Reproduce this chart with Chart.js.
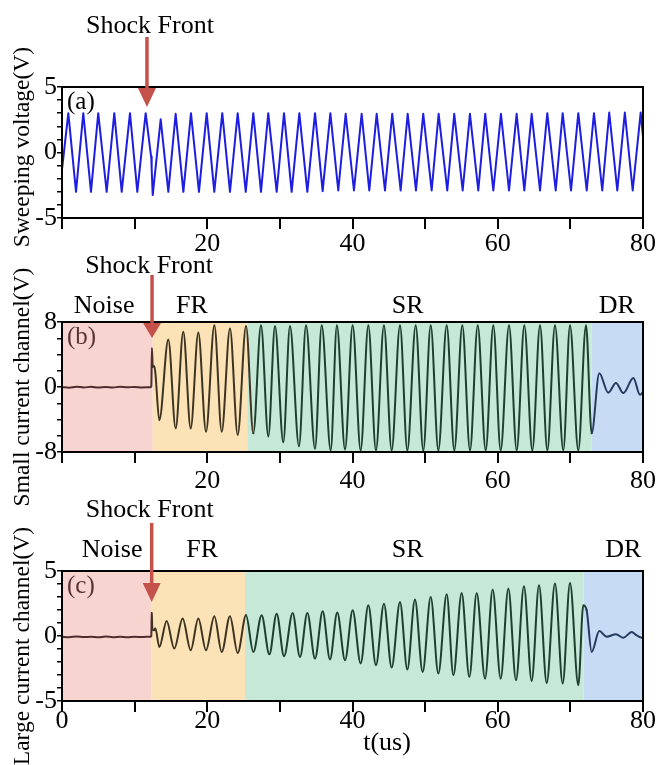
<!DOCTYPE html>
<html>
<head>
<meta charset="utf-8">
<title>Probe signals across the shock front</title>
<script src="https://cdn.jsdelivr.net/npm/chart.js@4.4.1/dist/chart.umd.min.js"></script>
<style>
  body { margin: 0; background: #fff; }
  #wrap { position: relative; width: 667px; height: 765px; overflow: hidden; font-family: 'Liberation Serif', 'Times New Roman', serif; color: #000; }
  canvas { position: absolute; left: 0; }
  .ytitle { position: absolute; white-space: nowrap; font-size: 23.5px; line-height: 1; transform: translate(-50%, -50%) rotate(-90deg); }
  .xtitle { position: absolute; white-space: nowrap; font-size: 26px; line-height: 1; transform: translate(-50%, -50%); }
</style>
</head>
<body>
<div id="wrap">
  <canvas id="chartA" width="667" height="255" style="top:0px"></canvas>
  <canvas id="chartB" width="667" height="240" style="top:255px"></canvas>
  <canvas id="chartC" width="667" height="270" style="top:495px"></canvas>
  <div class="ytitle" style="left:22px; top:147px">Sweeping voltage(V)</div>
  <div class="ytitle" style="left:22px; top:387px">Small current channel(V)</div>
  <div class="ytitle" style="left:22px; top:646px">Large current channel(V)</div>
  <div class="xtitle" style="left:387px; top:742px">t(us)</div>
</div>
<script>
// ---- data ----
// (a) sweeping voltage: turning points of the triangle wave
var timesA = [0, 0.87, 1.93, 2.93, 3.99, 4.99, 6.15, 7.2, 8.22, 9.36, 10.37, 11.52,
  12.3, 12.33, 12.36, 12.49, 13.59, 14.64, 15.65, 16.71, 17.76, 18.86, 19.92, 20.97,
  22.07, 23.13, 24.19, 25.3, 26.34, 27.4, 28.4, 29.56, 30.57, 31.62, 32.68, 33.78,
  34.84, 35.89, 36.95, 38.04, 39.06, 40.2, 41.26, 42.31, 43.33, 44.47, 45.47, 46.63,
  47.6, 48.74, 49.74, 50.9, 51.86, 53.05, 54.01, 55.17, 56.17, 57.32, 58.28, 59.39,
  60.44, 61.55, 62.6, 63.66, 64.67, 65.82, 66.82, 67.98, 68.94, 70.09, 71.09, 72.25,
  73.25, 74.39, 75.35, 76.46, 77.5, 78.58, 79.68, 80];
var voltsA = [-1.3, 3.0, -3.0, 3.0, -3.0, 3.0, -3.0, 3.0, -3.0, 3.0, -3.0, 3.0,
  -0.45, -0.3, -1.2, -3.25, 2.53, -3.0, 2.95, -3.0, 3.0, -3.0, 3.0, -3.0,
  3.0, -3.0, 3.0, -3.0, 3.0, -3.0, 3.0, -3.0, 3.0, -3.0, 3.0, -3.0,
  3.0, -2.95, 3.0, -2.9, 2.95, -2.9, 2.95, -2.9, 2.95, -2.9, 2.95, -2.9,
  2.95, -2.9, 2.95, -2.9, 2.95, -2.9, 2.95, -2.9, 2.95, -2.9, 2.95, -2.9,
  2.95, -2.9, 2.95, -2.9, 2.95, -2.9, 3.0, -2.9, 3.0, -2.9, 3.0, -2.9,
  3.0, -2.9, 3.05, -2.9, 3.05, -2.9, 3.05, 1.2];

// (b) small current channel
var timesB = [0, 1, 2, 3, 4, 5, 6, 7, 8, 9, 10, 11, 12.2,
  12.3, 12.38, 12.5, 12.7, 12.85, 13.4,
  14.64, 15.65, 16.7, 17.72, 18.77, 19.83, 20.98, 21.99, 23.13, 24.19, 25.34, 26.34,
  27.4, 28.41, 29.33, 30.47, 31.39, 32.63, 33.6, 34.84, 35.76, 37.0, 37.85, 38.97,
  40.02, 41.12, 42.18, 43.23, 44.33, 45.39, 46.54, 47.55, 48.7, 49.75, 50.77, 51.82,
  52.97, 54.02, 55.12, 56.18, 57.24, 58.34, 59.39, 60.4, 61.55, 62.61, 63.66, 64.76,
  65.82, 66.83, 67.88, 69.03, 69.95, 71.09, 72.15,
  72.93, 73.98, 75.22, 76.28, 77.29, 78.67, 79.59, 80];
var currentB = [-0.02, -0.08, 0.03, -0.05, 0.02, -0.07, 0.0, -0.06, 0.03, -0.04, 0.01, -0.06, -0.02,
  0.1, 4.8, 2.5, 2.6, 1.8, -4.1,
  5.86, -5.1, 6.8, -5.1, 6.7, -5.5, 7.6, -5.5, 7.2, -5.9, 7.5, -5.7,
  7.6, -6.1, 7.5, -6.8, 7.5, -7.3, 7.6, -7.6, 7.6, -7.8, 7.6, -7.7,
  7.6, -7.8, 7.6, -7.8, 7.6, -7.8, 7.6, -7.8, 7.6, -7.8, 7.6, -7.8,
  7.6, -7.8, 7.6, -7.8, 7.6, -7.8, 7.6, -7.8, 7.6, -7.8, 7.6, -7.8,
  7.6, -7.8, 7.6, -7.8, 7.6, -7.8, 7.6,
  -5.7, 1.7, -0.7, 0.5, -0.75, 1.1, -0.95, -0.6];

// (c) large current channel
var timesC = [0, 1, 2, 3, 4, 5, 6, 7, 8, 9, 10, 11, 12.2,
  12.3, 12.35, 12.45, 12.67, 12.85, 13.4,
  14.41, 15.46, 16.61, 17.72, 18.77, 19.83, 20.98, 21.99, 23.13, 24.19, 25.34, 26.34,
  27.49, 28.55, 29.56, 30.57, 31.76, 32.77, 33.78, 34.84, 35.89, 36.9, 37.9, 38.97,
  40.02, 41.12, 42.18, 43.23, 44.33, 45.39, 46.54, 47.55, 48.6, 49.66, 50.77, 51.82,
  52.97, 53.89, 55.03, 56.09, 57.1, 58.25, 59.3, 60.4, 61.46, 62.51, 63.61, 64.67,
  65.68, 66.74, 67.88, 68.94, 69.95, 71.09,
  71.78, 72.24, 72.93, 73.98, 74.99, 76.28, 77.29, 78.44, 79.13, 79.82, 80];
var currentC = [-0.05, -0.1, -0.03, -0.08, -0.06, -0.1, -0.04, -0.09, -0.05, -0.1, -0.06, -0.08, -0.05,
  0.0, 1.77, 0.5, 0.44, 0.6, -0.85,
  1.15, -0.97, 1.34, -1.1, 1.34, -1.1, 1.52, -1.23, 1.52, -1.31, 1.59, -1.23,
  1.59, -1.41, 1.72, -1.56, 1.77, -1.62, 1.77, -1.74, 1.9, -1.8, 1.8, -1.87,
  1.98, -2.12, 2.36, -2.25, 2.49, -2.43, 2.62, -2.58, 2.8, -2.77, 3.0, -2.89,
  3.21, -3.02, 3.31, -3.15, 3.31, -3.28, 3.57, -3.28, 3.65, -3.41, 3.82, -3.46,
  3.9, -3.61, 4.03, -3.66, 4.08, -3.79,
  2.36, 1.98, -1.23, 0.38, -0.05, 0.13, -0.13, 0.3, 0.05, -0.13, -0.1];

// regimes and their limits (us)
var regionNames = ['Noise', 'FR', 'SR', 'DR'];
var regionEdgesB = [0, 12.5, 25.5, 72.9, 80];
var regionEdgesC = [0, 12.35, 25.2, 71.8, 80];
var regionLabelAtB = [5.8, 17.9, 47.6, 76.4];
var regionLabelAtC = [6.9, 19.3, 47.6, 77.3];
var shockTimes = [11.7, 12.4, 12.35];

// tick labels
var yLabelsA = [-5, 0, 5];
var yLabelsB = [-8, 0, 8];
var yLabelsC = [-5, 0, 5];
var xLabelsUpper = [20, 40, 60, 80];
var xLabelsLower = [0, 20, 40, 60, 80];

var regionFill = ['#f8d4d0', '#fbe3b7', '#c6e8d6', '#c7dcf4'];
var regionLine = ['#4e2d2d', '#3e3421', '#1f3f2e', '#243b5e'];
var arrowRed = '#c4514a';
var serif = "'Liberation Serif', 'Times New Roman', serif";

Chart.defaults.font.family = serif;
Chart.defaults.font.size = 26;
Chart.defaults.color = '#000';

// draws shaded regimes, frame, panel letter, regime names and the shock arrow
var decor = {
  id: 'decor',
  beforeDatasetsDraw: function (chart, args, o) {
    if (!o.edges) return;
    var ctx = chart.ctx, a = chart.chartArea, x = chart.scales.x;
    ctx.save();
    for (var i = 0; i < o.edges.length - 1; i++) {
      var x0 = x.getPixelForValue(o.edges[i]);
      var x1 = x.getPixelForValue(o.edges[i + 1]);
      ctx.fillStyle = regionFill[i];
      ctx.fillRect(x0, a.top, x1 - x0, a.bottom - a.top);
    }
    ctx.restore();
  },
  afterDatasetsDraw: function (chart, args, o) {
    var ctx = chart.ctx, a = chart.chartArea, x = chart.scales.x;
    ctx.save();
    ctx.strokeStyle = '#000';
    ctx.lineWidth = 2;
    ctx.strokeRect(a.left, a.top, a.right - a.left, a.bottom - a.top);

    ctx.font = '25px ' + serif;
    ctx.fillStyle = o.letterColor;
    ctx.textAlign = 'left';
    ctx.textBaseline = 'middle';
    ctx.fillText(o.letter, a.left + 5, a.top + 15);

    ctx.font = '26px ' + serif;
    ctx.fillStyle = '#000';
    ctx.textAlign = 'center';
    ctx.textBaseline = 'alphabetic';
    if (o.labelAt) {
      for (var i = 0; i < regionNames.length; i++) {
        ctx.fillText(regionNames[i], x.getPixelForValue(o.labelAt[i]), a.top + o.namesY);
      }
    }

    var sx = x.getPixelForValue(o.shock);
    ctx.fillText('Shock Front', sx + o.textShift, a.top + o.shockTextY);
    ctx.strokeStyle = arrowRed;
    ctx.fillStyle = arrowRed;
    ctx.lineWidth = 3.5;
    ctx.beginPath();
    ctx.moveTo(sx, a.top + o.arrow[0]);
    ctx.lineTo(sx, a.top + o.arrow[1] + 2);
    ctx.stroke();
    ctx.beginPath();
    ctx.moveTo(sx - 9, a.top + o.arrow[1]);
    ctx.lineTo(sx + 9, a.top + o.arrow[1]);
    ctx.lineTo(sx, a.top + o.arrow[2]);
    ctx.closePath();
    ctx.fill();
    ctx.restore();
  }
};

function points(ts, vs) {
  return ts.map(function (t, i) { return { x: t, y: vs[i] }; });
}

function makePanel(id, p) {
  var ds = {
    data: points(p.times, p.values),
    borderWidth: 2,
    borderJoinStyle: 'round',
    borderCapStyle: 'round',
    pointRadius: 0,
    fill: false
  };
  if (p.edges) {
    ds.cubicInterpolationMode = 'monotone';
    ds.borderColor = regionLine[2];
    ds.segment = {
      borderColor: function (c) {
        var t = p.times[c.p0DataIndex];
        for (var i = 0; i < p.edges.length - 1; i++) {
          if (t < p.edges[i + 1]) return regionLine[i];
        }
        return regionLine[regionLine.length - 1];
      }
    };
  } else {
    ds.tension = 0;
    ds.borderColor = '#1e1ee0';
  }
  return new Chart(document.getElementById(id), {
    type: 'line',
    data: { datasets: [ds] },
    options: {
      responsive: false,
      animation: false,
      layout: { padding: { top: p.padTop, right: 24, left: 0, bottom: 0 } },
      plugins: {
        legend: { display: false },
        tooltip: { enabled: false },
        decor: {
          edges: p.edges, labelAt: p.labelAt, namesY: p.namesY,
          letter: p.letter, letterColor: p.letterColor,
          shock: p.shock, arrow: p.arrow, shockTextY: p.shockTextY, textShift: p.textShift
        }
      },
      scales: {
        x: {
          type: 'linear', min: 0, max: 80,
          afterFit: function (s) { s.height = p.xHeight; },
          border: { display: false },
          grid: { drawOnChartArea: false, drawTicks: true, tickLength: 11, color: '#000', lineWidth: 2 },
          ticks: {
            stepSize: 10, autoSkip: false, maxRotation: 0, padding: p.xPad,
            callback: function (v) { return p.xLabels.indexOf(v) >= 0 ? v : ''; }
          }
        },
        y: {
          min: p.yMin, max: p.yMax,
          afterFit: function (s) { s.width = 62; },
          border: { display: false },
          grid: { drawOnChartArea: false, drawTicks: true, tickLength: 5, color: '#000', lineWidth: 1.5 },
          ticks: {
            stepSize: p.yStep, autoSkip: false, padding: 0,
            callback: function (v) { return p.yLabels.indexOf(v) >= 0 ? v : ''; }
          }
        }
      }
    },
    plugins: [decor]
  });
}

makePanel('chartA', {
  times: timesA, values: voltsA, yMin: -5, yMax: 5, yStep: 1, yLabels: yLabelsA,
  xLabels: xLabelsUpper, xPad: 0, xHeight: 37, padTop: 87,
  letter: '(a)', letterColor: '#000',
  shock: shockTimes[0], arrow: [-50, 1, 20], shockTextY: -54, textShift: 3
});
makePanel('chartB', {
  times: timesB, values: currentB, yMin: -8, yMax: 8, yStep: 2, yLabels: yLabelsB,
  xLabels: xLabelsUpper, xPad: 3, xHeight: 43, padTop: 67,
  edges: regionEdgesB, labelAt: regionLabelAtB, namesY: -9,
  letter: '(b)', letterColor: '#5a3434',
  shock: shockTimes[1], arrow: [-47, 1, 16], shockTextY: -49, textShift: -3
});
makePanel('chartC', {
  times: timesC, values: currentC, yMin: -5, yMax: 5, yStep: 1, yLabels: yLabelsC,
  xLabels: xLabelsLower, xPad: -6, xHeight: 64, padTop: 76,
  edges: regionEdgesC, labelAt: regionLabelAtC, namesY: -14,
  letter: '(c)', letterColor: '#5a3434',
  shock: shockTimes[2], arrow: [-48, 12, 31], shockTextY: -54, textShift: -2
});
</script>
</body>
</html>
